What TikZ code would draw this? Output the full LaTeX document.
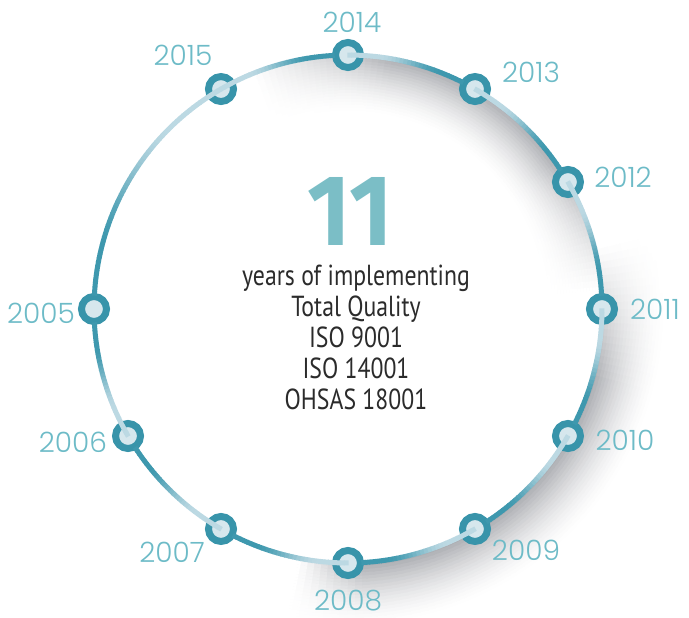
\documentclass[tikz,border=0pt]{standalone}
\usepackage{fontspec}
\usepackage{graphicx}
\setmainfont{PT Sans}
\IfFontExistsTF{Poppins Light}{\newfontfamily\yearfont{Poppins Light}}{\newfontfamily\yearfont{Poppins}}
\newfontfamily\bodyfont[FakeStretch=0.82]{PT Sans}
\newfontfamily\bigfont{Fira Sans}
\definecolor{ringdark}{HTML}{3E98AE}
\definecolor{ringlight}{HTML}{BCD9E3}
\definecolor{noderim}{HTML}{3894AA}
\definecolor{nodecore}{HTML}{D6E7ED}
\definecolor{yearcol}{HTML}{6DBBC7}
\definecolor{bigcol}{HTML}{7BBEC6}
\definecolor{bodycol}{HTML}{2B2B2B}
\definecolor{shadowcol}{HTML}{5A5D66}
\begin{document}
\begin{tikzpicture}[x=1pt,y=-1pt,
  yearnode/.style={circle, draw=noderim, fill=nodecore, line width=7pt, minimum size=25pt, inner sep=0pt},
  yearlabel/.style={text=yearcol, font=\yearfont\fontsize{28}{28}\selectfont, inner sep=0pt},
  ringpiece/.style={line width=5pt, line cap=butt},
  shadowpiece/.style={line cap=butt}]
\useasboundingbox (0,0) rectangle (689,618);
\def\cx{348}\def\cy{309}\def\R{254}
% soft shadow inside the ring, upper right
\begin{scope}
\clip (\cx,\cy) circle[radius=\R];
\foreach \k in {20,...,1}{
  \pgfmathsetmacro\hh{58*\k/20}
  \pgfmathsetmacro\gk{(1-(\k-0.5)/20)^1.6}
  \foreach \th in {116,114.5,...,2}{
    \pgfmathsetmacro\mid{\th-0.75}
    \pgfmathsetmacro\wt{min(1,max(0,(112-\mid)/32))*min(1,max(0,(\mid-4)/32))}
    \pgfmathsetmacro\shd{50*\wt*\gk}
    \draw[shadowpiece, line width=2*\hh, color=shadowcol!\shd!white]
      ({\cx+\R*cos(\th)}, {\cy-\R*sin(\th)}) arc[start angle=-\th, end angle=-\th+2.2, radius=\R];
  }
}
\end{scope}
% soft shadow outside the ring, lower right
\begin{scope}[even odd rule]
\clip (0,0) rectangle (689,618) (\cx,\cy) circle[radius=\R];
\foreach \k in {20,...,1}{
  \pgfmathsetmacro\hh{64*\k/20}
  \pgfmathsetmacro\gk{(1-(\k-0.5)/20)^1.6}
  \foreach \th in {18,16.5,...,-106}{
    \pgfmathsetmacro\mid{\th-0.75}
    \pgfmathsetmacro\wt{min(1,max(0,(14-\mid)/30))*min(1,max(0,(\mid+101)/14))}
    \pgfmathsetmacro\shd{52*\wt*\gk}
    \draw[shadowpiece, line width=2*\hh, color=shadowcol!\shd!white]
      ({\cx+\R*cos(\th)}, {\cy-\R*sin(\th)}) arc[start angle=-\th, end angle=-\th+2.2, radius=\R];
  }
}
\end{scope}
% year nodes
\foreach \yr/\ang in {2005/180, 2006/210, 2007/240, 2008/270, 2009/300, 2010/330, 2011/360, 2012/390, 2013/420, 2014/450, 2015/480}
  \node[yearnode] (n\yr) at ({\cx+\R*cos(\ang)}, {\cy-\R*sin(\ang)}) {};
% ring segments, dark at the earlier year, light at the later one
\foreach \aa/\bb/\N in {180/210/30, 210/240/30, 240/270/30, 270/300/30, 300/330/30, 330/360/30, 360/390/30, 390/420/30, 420/450/30, 450/480/30, 180/120/60}{
  \pgfmathsetmacro\sg{(\bb>\aa)?1:-1}
  \pgfmathsetmacro\as{\aa+3*\sg}
  \pgfmathtruncatemacro\Nm{\N-1}
  \foreach \j in {0,...,\Nm}{
    \pgfmathsetmacro\tA{\as+(\bb-\as)*\j/\N}
    \pgfmathsetmacro\tB{\as+(\bb-\as)*(\j+1.15)/\N}
    \pgfmathsetmacro\tm{(\j+0.5)/\N}
    \pgfmathsetmacro\uu{min(1,max(0,(\tm-0.2)/0.55))}
    \pgfmathsetmacro\mixv{100*\uu*\uu*(3-2*\uu)}
    \draw[ringpiece, color=ringlight!\mixv!ringdark] ({\cx+\R*cos(\tA)}, {\cy-\R*sin(\tA)}) -- ({\cx+\R*cos(\tB)}, {\cy-\R*sin(\tB)});
  }
}
% year labels
\node[yearlabel] (l2014) at (352,22) {2014};
\node[yearlabel] (l2015) at (183,55) {2015};
\node[yearlabel] (l2013) at (531,72) {2013};
\node[yearlabel] (l2012) at (623,177) {2012};
\node[yearlabel] (l2011) at (655,309) {2011};
\node[yearlabel] (l2010) at (625,440) {2010};
\node[yearlabel] (l2009) at (526,550) {2009};
\node[yearlabel] (l2008) at (348,601) {2008};
\node[yearlabel] (l2007) at (172,552) {2007};
\node[yearlabel] (l2006) at (73,442) {2006};
\node[yearlabel] (l2005) at (41,313) {2005};
% centre
\node[text=bigcol, inner sep=0pt] (big) at (350,211) {\resizebox{85pt}{68pt}{\bigfont\bfseries 11}};
\node[text=bodycol, align=center, inner sep=0pt, font=\bodyfont\fontsize{29}{31}\selectfont] (body) at (356,337)
  {years of implementing\\Total Quality\\ISO 9001\\ISO 14001\\OHSAS 18001};
\end{tikzpicture}
\end{document}
